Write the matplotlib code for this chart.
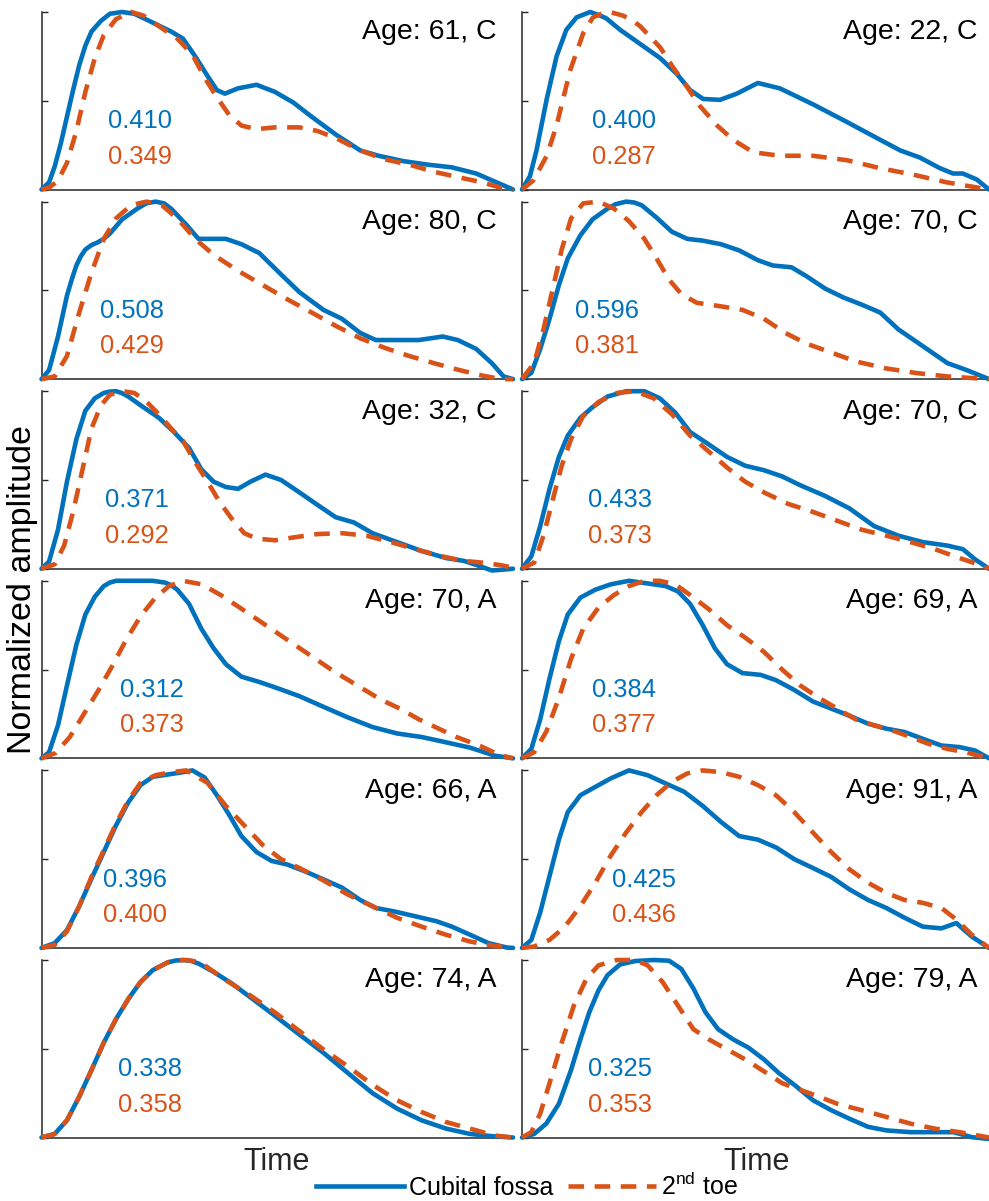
import matplotlib
matplotlib.use('Agg')
import matplotlib.pyplot as plt
from matplotlib.lines import Line2D

plt.rcParams['font.family'] = ['Liberation Sans', 'DejaVu Sans']
plt.rcParams['mathtext.fontset'] = 'custom'
plt.rcParams['mathtext.rm'] = 'Liberation Sans'
plt.rcParams['mathtext.it'] = 'Liberation Sans:italic'

BLUE = '#0072BD'
ORANGE = '#D95319'
AXC = '#262626'

# ---------------- data ----------------
ages = [61, 22, 80, 70, 32, 70, 70, 69, 66, 91, 74, 79]
groups = ['C', 'C', 'C', 'C', 'C', 'C', 'A', 'A', 'A', 'A', 'A', 'A']
cubital_vals = [0.410, 0.400, 0.508, 0.596, 0.371, 0.433, 0.312, 0.384, 0.396, 0.425, 0.338, 0.325]
toe_vals = [0.349, 0.287, 0.429, 0.381, 0.292, 0.373, 0.373, 0.377, 0.400, 0.436, 0.358, 0.353]

# panel 1: Age 61, C
p1_cf_t = [0, .016, .028, .041, .054, .067, .08, .093, .106, .126, .145, .171, .197, .236, .275, .30, .326, .352, .372, .389, .417, .456, .495, .534, .573, .624, .676, .715, .767, .819, .87, .922, .961, 1.0]
p1_cf_a = [0, .04, .13, .26, .41, .56, .70, .81, .89, .95, .99, 1.0, .99, .94, .89, .85, .75, .64, .56, .54, .57, .59, .55, .49, .41, .31, .22, .19, .16, .14, .125, .09, .045, 0]
p1_toe_t = [0, .016, .035, .054, .074, .093, .113, .132, .158, .19, .216, .249, .288, .32, .346, .372, .398, .424, .456, .495, .547, .585, .624, .676, .728, .78, .832, .883, .935, .974, 1.0]
p1_toe_a = [0, .01, .05, .15, .33, .55, .74, .87, .96, 1.0, .98, .92, .85, .76, .63, .52, .42, .36, .34, .35, .35, .33, .29, .22, .17, .14, .10, .07, .04, .01, 0]

# panel 2: Age 22, C
p2_cf_t = [0, .017, .031, .053, .074, .095, .117, .146, .167, .18, .21, .253, .296, .332, .36, .388, .424, .46, .505, .552, .623, .696, .767, .81, .852, .895, .923, .944, .974, 1.0]
p2_cf_a = [0, .075, .22, .51, .75, .90, .97, 1.0, .98, .965, .90, .82, .74, .65, .56, .51, .505, .54, .60, .57, .48, .38, .28, .22, .18, .12, .09, .09, .056, 0]
p2_toe_t = [0, .024, .053, .074, .103, .131, .152, .17, .188, .216, .235, .253, .296, .323, .353, .381, .418, .452, .495, .552, .623, .696, .767, .837, .91, .966, 1.0]
p2_toe_a = [0, .05, .19, .36, .67, .88, .97, .99, 1.0, .98, .955, .92, .80, .69, .58, .47, .36, .28, .21, .19, .19, .165, .12, .084, .04, .015, 0]

# panel 3: Age 80, C
p3_cf_t = [0, .016, .035, .054, .064, .074, .083, .093, .106, .119, .132, .145, .171, .203, .222, .242, .26, .275, .307, .333, .359, .391, .424, .462, .508, .547, .598, .637, .676, .709, .754, .80, .851, .883, .922, .955, .98, 1.0]
p3_cf_a = [0, .05, .24, .47, .56, .64, .69, .73, .755, .77, .79, .82, .90, .96, .99, 1.0, .99, .96, .87, .79, .79, .79, .76, .71, .59, .49, .39, .34, .26, .22, .22, .22, .24, .22, .17, .09, .015, 0]
p3_toe_t = [0, .028, .054, .08, .106, .132, .158, .19, .223, .255, .288, .326, .365, .417, .469, .521, .573, .624, .676, .728, .78, .832, .883, .935, .974, 1.0]
p3_toe_a = [0, .015, .13, .375, .60, .79, .905, .98, 1.0, .98, .905, .79, .70, .61, .53, .45, .375, .30, .23, .176, .13, .09, .053, .02, 0, 0]

# panel 4: Age 70, C
p4_cf_t = [0, .02, .039, .059, .079, .098, .125, .151, .183, .20, .223, .24, .256, .288, .321, .354, .387, .426, .465, .505, .537, .577, .609, .649, .688, .727, .767, .806, .858, .911, .95, 1.0]
p4_cf_a = [0, .035, .17, .34, .53, .68, .81, .90, .96, .985, 1.0, .995, .98, .91, .83, .79, .78, .76, .725, .67, .64, .63, .58, .51, .46, .42, .375, .28, .186, .09, .053, 0]
p4_toe_t = [0, .026, .046, .066, .085, .105, .131, .164, .197, .229, .262, .288, .315, .341, .374, .426, .472, .518, .564, .609, .662, .714, .78, .845, .911, .963, 1.0]
p4_toe_a = [0, .09, .28, .51, .73, .905, .99, 1.0, .96, .89, .79, .68, .56, .48, .43, .41, .39, .34, .26, .20, .15, .10, .06, .034, .015, .006, 0]

# panel 5: Age 32, C
p5_cf_t = [0, .016, .035, .054, .074, .093, .113, .132, .145, .158, .17, .184, .216, .249, .281, .313, .339, .365, .391, .417, .443, .475, .508, .547, .585, .624, .663, .702, .754, .806, .858, .896, .929, .955, .98, 1.0]
p5_cf_a = [0, .04, .22, .49, .73, .89, .96, .99, .998, 1.0, .99, .97, .91, .85, .77, .68, .56, .49, .46, .45, .49, .53, .50, .43, .36, .29, .26, .20, .15, .10, .06, .044, .015, -.01, -.005, 0]
p5_toe_t = [0, .028, .048, .067, .087, .106, .126, .145, .171, .197, .223, .249, .275, .30, .326, .352, .378, .404, .43, .456, .495, .534, .585, .637, .689, .741, .793, .845, .896, .935, .974, 1.0]
p5_toe_a = [0, .025, .13, .32, .56, .79, .92, .98, 1.0, .99, .94, .87, .79, .72, .60, .49, .375, .28, .20, .17, .16, .176, .195, .20, .186, .15, .11, .072, .044, .034, .02, .005]

# panel 6: Age 70, C
p6_cf_t = [0, .02, .039, .059, .079, .098, .125, .151, .183, .223, .262, .295, .328, .36, .40, .439, .478, .518, .557, .596, .649, .701, .754, .806, .858, .911, .944, .97, 1.0]
p6_cf_a = [0, .07, .24, .45, .63, .75, .85, .91, .97, 1.0, 1.0, .96, .88, .77, .70, .63, .58, .555, .52, .47, .41, .34, .24, .186, .15, .13, .11, .053, 0]
p6_toe_t = [0, .026, .046, .066, .085, .105, .131, .164, .203, .242, .282, .321, .36, .40, .439, .478, .518, .57, .623, .675, .727, .78, .832, .884, .937, .976, 1.0]
p6_toe_a = [0, .034, .186, .39, .58, .73, .86, .94, .99, 1.0, .96, .87, .75, .66, .57, .49, .43, .365, .32, .27, .22, .186, .15, .11, .06, .025, 0]

# panel 7: Age 70, A
p7_cf_t = [0, .016, .035, .054, .074, .093, .113, .132, .145, .158, .197, .236, .262, .275, .288, .313, .339, .365, .391, .424, .462, .495, .547, .598, .65, .702, .754, .806, .858, .909, .961, 1.0]
p7_cf_a = [0, .034, .186, .41, .64, .81, .91, .97, .99, 1.0, 1.0, 1.0, .99, .975, .95, .87, .73, .62, .53, .46, .43, .40, .35, .29, .23, .176, .14, .12, .09, .06, .015, 0]
p7_toe_t = [0, .03, .06, .09, .12, .15, .18, .21, .24, .27, .30, .34, .38, .42, .47, .52, .57, .62, .67, .72, .76, .80, .84, .88, .93, .97, 1.0]
p7_toe_a = [0, .03, .12, .25, .38, .52, .67, .80, .90, .97, 1.0, .98, .92, .85, .76, .67, .58, .49, .41, .33, .28, .22, .17, .12, .07, .02, 0]

# panel 8: Age 69, A
p8_cf_t = [0, .02, .039, .059, .079, .098, .125, .157, .19, .229, .269, .308, .334, .36, .387, .413, .439, .472, .511, .544, .583, .623, .662, .701, .741, .78, .819, .858, .898, .937, .97, 1.0]
p8_cf_a = [0, .053, .22, .45, .66, .81, .905, .95, .98, 1.0, .985, .97, .94, .87, .75, .62, .53, .48, .47, .44, .385, .32, .28, .24, .195, .167, .148, .11, .072, .063, .044, 0]
p8_toe_t = [0, .026, .052, .079, .105, .131, .164, .197, .229, .262, .295, .328, .36, .40, .439, .478, .518, .557, .596, .636, .675, .714, .754, .793, .832, .872, .911, .95, 1.0]
p8_toe_a = [0, .034, .15, .34, .56, .73, .85, .92, .97, 1.0, 1.0, .98, .92, .84, .75, .68, .60, .50, .41, .34, .28, .22, .186, .157, .12, .08, .053, .034, 0]

# panel 9: Age 66, A
p9_cf_t = [0, .028, .054, .08, .106, .132, .158, .184, .21, .236, .268, .30, .32, .346, .372, .398, .424, .456, .488, .521, .56, .598, .637, .676, .709, .747, .793, .838, .87, .909, .948, .987, 1.0]
p9_cf_a = [0, .027, .10, .235, .39, .54, .69, .82, .917, .964, .977, .99, 1.0, .96, .86, .75, .63, .54, .49, .47, .43, .386, .34, .27, .225, .206, .178, .15, .12, .074, .027, .002, 0]
p9_toe_t = [0, .028, .054, .08, .106, .132, .158, .184, .21, .242, .275, .307, .352, .391, .43, .469, .508, .547, .598, .65, .702, .754, .806, .858, .909, .961, 1.0]
p9_toe_a = [0, .017, .093, .235, .40, .55, .70, .83, .93, .973, .99, 1.0, .93, .80, .69, .58, .50, .45, .38, .30, .235, .17, .12, .074, .036, .011, 0]

# panel 10: Age 91, A
p10_cf_t = [0, .02, .039, .059, .079, .098, .125, .157, .19, .229, .269, .308, .347, .387, .426, .465, .505, .544, .583, .623, .662, .701, .741, .78, .819, .858, .898, .93, .963, 1.0]
p10_cf_a = [0, .045, .20, .405, .61, .765, .86, .907, .955, 1.0, .973, .926, .88, .80, .71, .63, .61, .566, .50, .45, .40, .33, .27, .225, .17, .12, .11, .14, .064, 0]
p10_toe_t = [0, .026, .059, .092, .125, .157, .19, .223, .256, .288, .321, .354, .387, .426, .465, .505, .544, .583, .623, .662, .701, .741, .78, .819, .858, .898, .93, .963, 1.0]
p10_toe_a = [0, .008, .045, .12, .235, .367, .52, .65, .765, .86, .936, .983, 1.0, .99, .964, .917, .86, .765, .65, .54, .443, .367, .31, .27, .254, .225, .16, .074, 0]

# panel 11: Age 74, A
p11_cf_t = [0, .028, .054, .08, .106, .132, .158, .184, .21, .236, .268, .285, .30, .317, .333, .365, .404, .443, .495, .547, .598, .65, .702, .754, .806, .858, .909, .961, 1.0]
p11_cf_a = [0, .02, .097, .23, .38, .534, .667, .78, .876, .943, .987, .997, 1.0, .995, .98, .933, .867, .79, .686, .58, .477, .363, .25, .163, .097, .05, .02, .006, 0]
p11_toe_t = [0, .028, .054, .08, .106, .132, .158, .184, .21, .236, .268, .29, .307, .325, .346, .391, .443, .495, .547, .598, .65, .702, .754, .806, .858, .909, .961, 1.0]
p11_toe_a = [0, .02, .097, .23, .38, .534, .667, .78, .876, .943, .987, .998, 1.0, .993, .97, .886, .80, .705, .60, .496, .40, .297, .21, .144, .087, .05, .011, 0]

# panel 12: Age 79, A
p12_cf_t = [0, .026, .052, .079, .105, .125, .144, .164, .183, .21, .242, .282, .315, .341, .367, .393, .42, .452, .485, .518, .55, .583, .623, .662, .701, .741, .78, .832, .884, .924, .963, 1.0]
p12_cf_a = [0, .02, .078, .19, .38, .553, .705, .83, .914, .975, .994, 1.0, .996, .95, .84, .705, .61, .553, .506, .44, .363, .297, .21, .154, .106, .06, .04, .03, .03, .03, .002, -.008]
p12_toe_t = [0, .02, .039, .059, .085, .111, .138, .164, .203, .242, .269, .301, .334, .367, .40, .439, .478, .518, .557, .596, .636, .675, .727, .78, .832, .884, .937, 1.0]
p12_toe_a = [0, .03, .135, .306, .534, .743, .895, .97, 1.0, 1.0, .97, .876, .743, .61, .553, .496, .44, .373, .306, .268, .23, .19, .154, .116, .078, .05, .03, 0]

cubital_curves = [(p1_cf_t, p1_cf_a), (p2_cf_t, p2_cf_a), (p3_cf_t, p3_cf_a), (p4_cf_t, p4_cf_a),
                  (p5_cf_t, p5_cf_a), (p6_cf_t, p6_cf_a), (p7_cf_t, p7_cf_a), (p8_cf_t, p8_cf_a),
                  (p9_cf_t, p9_cf_a), (p10_cf_t, p10_cf_a), (p11_cf_t, p11_cf_a), (p12_cf_t, p12_cf_a)]
toe_curves = [(p1_toe_t, p1_toe_a), (p2_toe_t, p2_toe_a), (p3_toe_t, p3_toe_a), (p4_toe_t, p4_toe_a),
              (p5_toe_t, p5_toe_a), (p6_toe_t, p6_toe_a), (p7_toe_t, p7_toe_a), (p8_toe_t, p8_toe_a),
              (p9_toe_t, p9_toe_a), (p10_toe_t, p10_toe_a), (p11_toe_t, p11_toe_a), (p12_toe_t, p12_toe_a)]

# ---------------- layout ----------------
W, H = 989, 1201
fig = plt.figure(figsize=(W / 100, H / 100), dpi=100)

col_left_px = [41.5, 522]
col_width_px = [471.5, 467]
row_top0, row_step, row_h = 12, 189.6, 177.5
num_x = [0.141, 0.150, 0.125, 0.113, 0.135, 0.141, 0.166, 0.150, 0.130, 0.193, 0.162, 0.141]
age_x = [0.966, 0.976]
DASH = (0, (3.4, 2.3))
LW = 3.3

for i in range(12):
    r, c = divmod(i, 2)
    top = row_top0 + r * row_step
    ax = fig.add_axes([col_left_px[c] / W, 1 - (top + row_h) / H, col_width_px[c] / W, row_h / H])
    t, a = cubital_curves[i]
    ax.plot(t, a, color=BLUE, lw=LW, solid_joinstyle='round', solid_capstyle='round', clip_on=False, zorder=3)
    t, a = toe_curves[i]
    ax.plot(t, a, color=ORANGE, lw=LW, linestyle=DASH, dash_capstyle='butt', dash_joinstyle='round',
            clip_on=False, zorder=4)
    ax.set_xlim(0, 1)
    ax.set_ylim(0, 1)
    ax.set_xticks([])
    ax.set_yticks([0, 0.5, 1])
    ax.tick_params(axis='y', direction='in', length=4.5, width=1, colors=AXC, labelleft=False)
    for s in ['top', 'right']:
        ax.spines[s].set_visible(False)
    for s in ['left', 'bottom']:
        ax.spines[s].set_color(AXC)
        ax.spines[s].set_linewidth(1.1)
    ax.text(age_x[c], 0.885, f'Age: {ages[i]}, {groups[i]}', transform=ax.transAxes,
            ha='right', va='center', fontsize=20.5, color='black')
    ax.text(num_x[i], 0.385, f'{cubital_vals[i]:.3f}', transform=ax.transAxes,
            ha='left', va='center', fontsize=18.4, color=BLUE)
    ax.text(num_x[i], 0.185, f'{toe_vals[i]:.3f}', transform=ax.transAxes,
            ha='left', va='center', fontsize=18.4, color=ORANGE)

fig.text(277 / W, 1 - 1162 / H, 'Time', ha='center', va='center', fontsize=22, color=AXC)
fig.text(757 / W, 1 - 1162 / H, 'Time', ha='center', va='center', fontsize=22, color=AXC)
fig.text(23 / W, 1 - 589 / H, 'Normalized amplitude', rotation=90, ha='center', va='center',
         fontsize=24.5, color='black')

handles = [Line2D([], [], color=BLUE, lw=LW),
           Line2D([], [], color=ORANGE, lw=LW, linestyle=DASH)]
labels = ['Cubital fossa', r'2$^{\mathrm{nd}}$ toe']
fig.legend(handles, labels, loc='center', bbox_to_anchor=(527 / W, 1 - 1186 / H), ncol=2,
           frameon=False, fontsize=18, handlelength=3.5, handletextpad=0.2, columnspacing=0.6,
           borderaxespad=0, borderpad=0)

fig.savefig('out.png', dpi=100)
